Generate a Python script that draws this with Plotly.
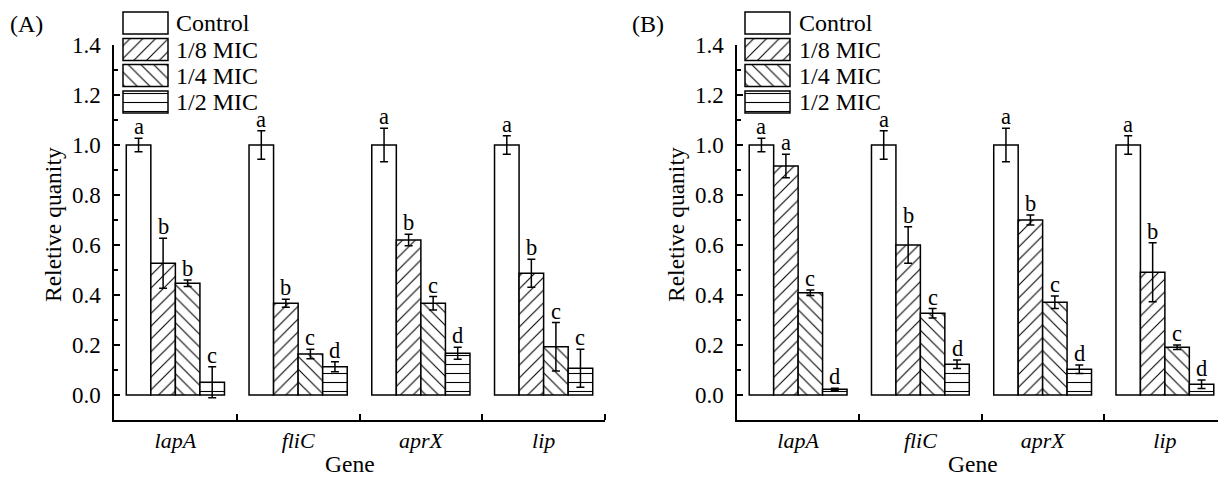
import plotly.graph_objects as go

genes = ["lapA", "fliC", "aprX", "lip"]
series = ["Control", "1/8 MIC", "1/4 MIC", "1/2 MIC"]

# Panel A
a_control = [1.0, 1.0, 1.0, 1.0]
a_eighth = [0.527, 0.367, 0.620, 0.487]
a_quarter = [0.447, 0.164, 0.367, 0.193]
a_half = [0.051, 0.113, 0.167, 0.107]
a_control_err = [0.027, 0.057, 0.067, 0.037]
a_eighth_err = [0.100, 0.016, 0.023, 0.056]
a_quarter_err = [0.013, 0.019, 0.027, 0.097]
a_half_err = [0.062, 0.020, 0.024, 0.076]
a_control_let = ["a", "a", "a", "a"]
a_eighth_let = ["b", "b", "b", "b"]
a_quarter_let = ["b", "c", "c", "c"]
a_half_let = ["c", "d", "d", "c"]

# Panel B
b_control = [1.0, 1.0, 1.0, 1.0]
b_eighth = [0.916, 0.600, 0.700, 0.491]
b_quarter = [0.409, 0.327, 0.371, 0.191]
b_half = [0.023, 0.123, 0.103, 0.043]
b_control_err = [0.027, 0.057, 0.067, 0.037]
b_eighth_err = [0.047, 0.073, 0.020, 0.118]
b_quarter_err = [0.011, 0.019, 0.025, 0.009]
b_half_err = [0.004, 0.017, 0.017, 0.017]
b_control_let = ["a", "a", "a", "a"]
b_eighth_let = ["a", "b", "b", "b"]
b_quarter_let = ["c", "c", "c", "c"]
b_half_let = ["d", "d", "d", "d"]

y_ticks = [0.0, 0.2, 0.4, 0.6, 0.8, 1.0, 1.2, 1.4]
y_title = "Reletive quanity"
x_title = "Gene"

FONT = "Liberation Serif, Times New Roman, serif"
OFF = 8  # page body margin
W, H = 1226 - OFF, 477 - OFF


def px(v):
    return v - OFF


patterns = [
    dict(shape=""),
    dict(shape="/", size=9, solidity=0.12, fgcolor="black", bgcolor="white"),
    dict(shape="\\", size=9, solidity=0.12, fgcolor="black", bgcolor="white"),
    dict(shape="-", size=9, solidity=0.12, fgcolor="black", bgcolor="white"),
]
BAR_W = 0.2
offsets = [(k - 1.5) * BAR_W for k in range(4)]

panels = [
    ("x", "y", [a_control, a_eighth, a_quarter, a_half],
     [a_control_err, a_eighth_err, a_quarter_err, a_half_err],
     [a_control_let, a_eighth_let, a_quarter_let, a_half_let]),
    ("x2", "y2", [b_control, b_eighth, b_quarter, b_half],
     [b_control_err, b_eighth_err, b_quarter_err, b_half_err],
     [b_control_let, b_eighth_let, b_quarter_let, b_half_let]),
]

fig = go.Figure()
annotations = []
xs = list(range(len(genes)))
for xa, ya, vals, errs, lets in panels:
    for k in range(4):
        fig.add_trace(go.Bar(
            x=xs, y=vals[k], name=series[k], xaxis=xa, yaxis=ya,
            marker=dict(color="white", line=dict(color="black", width=1.5),
                        pattern=patterns[k]),
            error_y=dict(type="data", array=errs[k], color="black",
                         thickness=1.5, width=4),
            showlegend=False, hoverinfo="skip",
        ))
        for i in xs:
            annotations.append(dict(
                x=i + offsets[k], y=vals[k][i] + errs[k][i], xref=xa, yref=ya,
                text=lets[k][i], showarrow=False, yanchor="bottom",
                yshift=-3, font=dict(family=FONT, size=22.5, color="black"),
            ))

# Legend keys drawn on a pixel-space overlay axis
leg_rows = [23, 49.5, 75.5, 102]
leg_box_h = 22
leg_sets = [(123, 45, 174), (745, 45, 797)]
for x0, bw, tx in leg_sets:
    for k in range(4):
        fig.add_trace(go.Bar(
            y=[px(leg_rows[k])], x=[bw], base=[px(x0)], orientation="h",
            width=leg_box_h, offset=-leg_box_h / 2, xaxis="x3", yaxis="y3",
            marker=dict(color="white", line=dict(color="black", width=1.5),
                        pattern=patterns[k]),
            showlegend=False, hoverinfo="skip", cliponaxis=False,
        ))
        annotations.append(dict(
            x=px(tx), y=px(leg_rows[k]), xref="x3", yref="y3", text=series[k],
            showarrow=False, xanchor="left", yanchor="middle",
            font=dict(family=FONT, size=24, color="black"),
        ))

for lbl, lx in [("(A)", 26), ("(B)", 648)]:
    annotations.append(dict(x=px(lx), y=px(24), xref="x3", yref="y3", text=lbl,
                            showarrow=False, font=dict(family=FONT, size=24, color="black")))
for lx in [350, 973]:
    annotations.append(dict(x=px(lx), y=px(464), xref="x3", yref="y3", text=x_title,
                            showarrow=False, font=dict(family=FONT, size=23.5, color="black")))
for lx in [53, 676]:
    annotations.append(dict(x=px(lx), y=px(225), xref="x3", yref="y3", text=y_title,
                            textangle=-90, showarrow=False,
                            font=dict(family=FONT, size=23.5, color="black")))

y_dom = [(H - px(420)) / H, (H - px(45)) / H]
xaxis_common = dict(
    range=[-0.5, 3.5], tickmode="array", tickvals=xs,
    ticktext=["<i>%s</i>" % g for g in genes], ticks="", showline=True,
    linecolor="black", linewidth=1.5, showgrid=False, zeroline=False,
    tickfont=dict(family=FONT, size=22, color="black"), automargin=False,
    minor=dict(tickmode="array", tickvals=[0.5, 1.5, 2.5, 3.5], ticks="inside",
               ticklen=6, tickwidth=1.5, tickcolor="black", showgrid=False),
)
yaxis_common = dict(
    range=[-0.1, 1.4], tickmode="array", tickvals=y_ticks,
    ticktext=["%.1f" % v for v in y_ticks], ticks="inside", ticklen=6,
    tickwidth=1.5, tickcolor="black", showline=True, linecolor="black",
    linewidth=1.5, showgrid=False, zeroline=False, domain=y_dom,
    tickfont=dict(family=FONT, size=23, color="black"), automargin=False,
    ticklabelstandoff=7,
    minor=dict(tickmode="array", tickvals=[-0.1 + 0.1 * j for j in range(16)],
               ticks="inside", ticklen=4, tickwidth=1.5, tickcolor="black",
               showgrid=False),
)

fig.update_layout(
    width=W, height=H, template="none",
    paper_bgcolor="white", plot_bgcolor="rgba(0,0,0,0)",
    margin=dict(l=0, r=0, t=0, b=0),
    barmode="group", bargap=0.2, bargroupgap=0,
    showlegend=False,
    xaxis=dict(xaxis_common, domain=[px(114) / W, px(605) / W], anchor="y"),
    yaxis=dict(yaxis_common, anchor="x"),
    xaxis2=dict(xaxis_common, domain=[px(737) / W, 1.0], anchor="y2"),
    yaxis2=dict(yaxis_common, anchor="x2"),
    xaxis3=dict(domain=[0, 1], range=[0, W], visible=False, anchor="y3",
                fixedrange=True),
    yaxis3=dict(domain=[0, 1], range=[H, 0], visible=False, anchor="x3",
                fixedrange=True),
    annotations=annotations,
)
fig.write_html("out.html")
